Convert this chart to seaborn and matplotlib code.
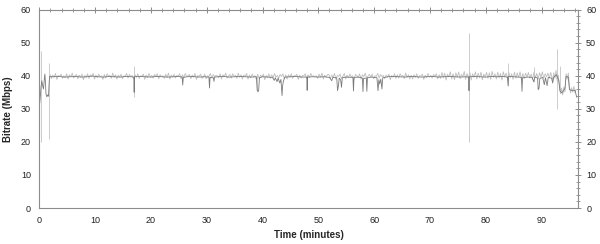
import numpy as np
import pandas as pd
import matplotlib
matplotlib.use("Agg")
import matplotlib.pyplot as plt
import seaborn as sns
from matplotlib.ticker import MultipleLocator

# ---------------- data ----------------
# main (darker) trace: (time in minutes, bitrate in Mbps)
main_points = [
    (0.0, 30.5), (0.15, 33.0), (0.3, 36.5), (0.45, 38.5), (0.6, 37.0), (0.75, 36.0),
    (0.9, 39.0), (1.0, 40.5), (1.1, 38.0), (1.2, 34.5), (1.35, 33.6), (1.5, 34.2),
    (1.65, 33.8), (1.75, 37.5), (1.85, 39.8),
    (2.5, 39.7), (3.5, 39.8), (4.5, 39.6), (5.5, 39.7), (6.5, 39.8), (7.5, 39.6),
    (8.5, 39.7), (9.5, 39.9), (10.5, 39.7), (11.5, 39.6), (12.5, 39.8), (13.5, 39.7),
    (14.5, 39.6), (15.5, 39.8), (16.5, 39.7), (16.95, 39.6), (17.0, 35.0), (17.05, 39.7),
    (18.0, 39.8), (19.0, 39.7), (20.0, 39.6), (21.0, 39.8), (22.0, 39.7), (23.0, 39.6),
    (24.0, 39.7), (25.0, 39.8), (25.6, 39.6), (25.7, 37.2), (25.8, 39.5), (26.5, 39.7),
    (27.5, 39.8), (28.5, 39.6), (29.5, 39.7), (30.4, 39.6), (30.5, 36.3), (30.6, 39.5),
    (31.2, 39.4), (31.3, 38.3), (31.4, 39.6), (32.0, 39.7), (33.0, 39.8), (34.0, 39.6),
    (35.0, 39.7), (36.0, 39.8), (37.0, 39.7), (38.0, 39.6), (38.9, 39.7), (39.05, 35.5),
    (39.3, 35.3), (39.45, 39.4), (40.0, 39.7), (41.0, 39.6), (41.8, 39.5), (42.1, 38.6),
    (42.3, 39.4), (42.6, 38.2), (42.8, 39.3), (43.1, 37.8), (43.3, 38.9), (43.5, 34.0),
    (43.6, 37.0), (43.75, 38.4), (44.0, 39.6), (45.0, 39.7), (46.0, 39.8), (47.0, 39.6),
    (47.95, 39.6), (48.0, 35.6), (48.05, 39.6), (49.0, 39.7), (50.0, 39.6), (51.0, 39.7),
    (52.0, 39.5), (52.4, 38.5), (52.6, 39.5), (53.3, 39.4), (53.45, 35.5), (53.6, 37.0),
    (53.75, 39.3), (54.0, 38.8), (54.15, 36.5), (54.3, 39.4), (55.0, 39.6), (56.2, 39.5),
    (56.3, 35.4), (56.4, 39.5), (57.2, 39.6), (57.9, 39.3), (58.0, 35.2), (58.1, 39.2),
    (58.6, 39.3), (58.7, 35.3), (58.8, 39.4), (59.5, 39.6), (60.5, 39.4), (60.7, 35.5),
    (60.85, 38.8), (61.0, 37.5), (61.2, 39.0), (61.4, 36.0), (61.55, 39.4), (62.5, 39.7),
    (63.5, 39.8), (64.5, 39.7), (65.5, 39.6), (66.5, 39.8), (67.5, 39.7), (68.5, 39.6),
    (69.5, 39.7), (70.5, 39.8), (71.5, 39.6), (72.5, 39.7), (73.5, 39.8), (74.5, 39.7),
    (75.5, 39.6), (76.5, 39.7), (76.95, 39.6), (77.0, 35.5), (77.05, 39.7), (78.0, 39.8),
    (79.0, 39.7), (80.0, 39.6), (81.0, 39.8), (82.0, 39.7), (83.0, 39.8), (83.9, 39.6),
    (84.0, 37.0), (84.1, 39.8), (85.0, 39.7), (86.0, 39.6), (86.4, 39.5), (86.5, 35.3),
    (86.6, 39.4), (87.5, 39.6), (88.3, 39.5), (88.6, 38.2), (88.8, 39.6), (89.3, 39.3),
    (89.4, 35.8), (89.55, 36.2), (89.7, 39.2), (90.2, 39.5), (90.5, 37.3), (90.7, 39.4),
    (91.0, 37.0), (91.2, 39.5), (91.8, 39.3), (92.0, 37.8), (92.2, 39.6), (92.7, 40.3),
    (93.1, 38.5), (93.3, 35.5), (93.6, 34.8), (93.9, 35.4), (94.2, 36.2), (94.4, 39.8),
    (94.8, 39.6), (95.0, 35.8), (95.5, 35.5), (96.0, 35.6), (96.3, 33.5),
]

# light per-sample fuzz around the main trace (sampled every 0.25 min from 1.9 min)
fuzz_start = 1.9
fuzz_step = 0.25
fuzz_rate = [
    40.4, 39.1, 40.2, 39.5, 40.7, 38.9, 40.1, 39.8, 40.5, 39.2,
    40.0, 39.4, 40.6, 39.0, 40.3, 39.7, 40.8, 39.3, 39.9, 40.4,
    39.1, 40.2, 39.6, 40.5, 38.8, 40.1, 39.5, 40.6, 39.2, 40.3,
    39.8, 40.7, 39.0, 40.2, 39.4, 40.5, 39.7, 40.0, 38.9, 40.4,
    39.3, 40.6, 39.9, 40.1, 39.2, 40.8, 39.5, 40.3, 39.0, 40.2,
    39.6, 40.5, 39.1, 40.0, 39.8, 40.7, 39.3, 40.4, 39.7, 40.1,
    39.0, 40.3, 39.5, 40.6, 39.2, 40.0, 39.9, 40.5, 38.9, 40.2,
    39.4, 40.7, 39.6, 40.1, 39.3, 40.4, 39.8, 40.6, 39.1, 40.3,
    39.7, 40.0, 39.2, 40.5, 39.5, 40.8, 39.0, 40.2, 39.6, 40.4,
    39.3, 40.1, 39.9, 40.6, 39.1, 40.3, 39.4, 40.7, 39.8, 40.0,
    40.4, 39.1, 40.2, 39.5, 40.7, 38.9, 40.1, 39.8, 40.5, 39.2,
    39.6, 40.5, 39.1, 40.0, 39.8, 40.7, 39.3, 40.4, 39.7, 40.1,
    40.0, 39.4, 40.6, 39.0, 40.3, 39.7, 40.8, 39.3, 39.9, 40.4,
    39.3, 40.6, 39.9, 40.1, 39.2, 40.8, 39.5, 40.3, 39.0, 40.2,
    39.8, 40.7, 39.0, 40.2, 39.4, 40.5, 39.7, 40.0, 38.9, 40.4,
    39.1, 40.2, 39.6, 40.5, 38.8, 40.1, 39.5, 40.6, 39.2, 40.3,
    39.4, 40.7, 39.6, 40.1, 39.3, 40.4, 39.8, 40.6, 39.1, 40.3,
    39.0, 40.3, 39.5, 40.6, 39.2, 40.0, 39.9, 40.5, 38.9, 40.2,
    39.3, 40.1, 39.9, 40.6, 39.1, 40.3, 39.4, 40.7, 39.8, 40.0,
    39.7, 40.0, 39.2, 40.5, 39.5, 40.8, 39.0, 40.2, 39.6, 40.4,
    40.4, 39.1, 40.2, 39.5, 40.7, 38.9, 40.1, 39.8, 40.5, 39.2,
    39.8, 40.7, 39.0, 40.2, 39.4, 40.5, 39.7, 40.0, 38.9, 40.4,
    40.0, 39.4, 40.6, 39.0, 40.3, 39.7, 40.8, 39.3, 39.9, 40.4,
    39.6, 40.5, 39.1, 40.0, 39.8, 40.7, 39.3, 40.4, 39.7, 40.1,
    39.1, 40.2, 39.6, 40.5, 38.8, 40.1, 39.5, 40.6, 39.2, 40.3,
    39.3, 40.6, 39.9, 40.1, 39.2, 40.8, 39.5, 40.3, 39.0, 40.2,
    39.0, 40.3, 39.5, 40.6, 39.2, 40.0, 39.9, 40.5, 38.9, 40.2,
    39.4, 40.7, 39.6, 40.1, 39.3, 40.4, 39.8, 40.6, 39.1, 40.3,
    39.2, 41.0, 39.4, 40.8, 38.7, 40.5, 39.6, 41.2, 39.0, 40.6,
    38.8, 40.9, 39.5, 41.1, 39.1, 40.4, 39.7, 41.3, 38.9, 40.7,
    39.3, 41.0, 38.7, 40.6, 39.5, 41.2, 39.0, 40.8, 39.4, 41.1,
    38.8, 40.5, 39.6, 41.0, 39.2, 40.9, 38.9, 41.3, 39.5, 40.6,
    39.0, 41.1, 39.3, 40.7, 38.7, 41.2, 39.6, 40.8, 39.1, 41.0,
    39.4, 40.6, 38.9, 41.1, 39.2, 40.9, 39.5, 41.2, 38.8, 40.7,
    39.1, 40.8, 39.6, 41.0, 39.3, 40.5, 38.9, 41.1, 39.4, 40.7,
    39.0, 40.9, 39.5, 41.2, 39.2, 40.6, 39.7, 40.8, 39.3, 41.0,
    39.4,
]

# light fuzz over the unsettled final minutes
tail_time = [92.0, 92.2, 92.4, 92.6, 92.8, 93.0, 93.2, 93.4, 93.6, 93.8, 94.0,
             94.2, 94.4, 94.6, 94.8, 95.0, 95.2, 95.4, 95.6, 95.8, 96.0, 96.2]
tail_rate = [38.6, 40.9, 39.2, 41.6, 38.4, 40.2, 36.8, 34.6, 36.3, 34.2, 36.6,
             35.1, 40.6, 39.0, 40.8, 36.9, 34.8, 36.4, 35.0, 36.8, 34.9, 35.9]

# isolated short bursts drawn in light grey (time, top, bottom)
burst_time = [0.25, 1.75, 17.0, 39.1, 77.0, 84.0, 88.7, 92.7, 93.3]
burst_top = [47.5, 44.0, 43.0, 40.5, 53.0, 44.0, 42.5, 48.0, 43.0]
burst_bottom = [20.0, 21.0, 33.5, 35.0, 20.0, 37.0, 38.0, 30.0, 35.0]

x_ticks = [0, 10, 20, 30, 40, 50, 60, 70, 80, 90]
y_ticks = [0, 10, 20, 30, 40, 50, 60]

# ---------------- figure ----------------
sns.set_style("white")
plt.rcParams["font.family"] = ["Liberation Sans", "DejaVu Sans"]

main_df = pd.DataFrame(main_points, columns=["time", "rate"])
fuzz_df = pd.DataFrame({
    "time": list(fuzz_start + fuzz_step * np.arange(len(fuzz_rate))) + tail_time,
    "rate": fuzz_rate + tail_rate,
})

fig = plt.figure(figsize=(6.0, 2.44), dpi=100)
ax = fig.add_axes([0.0655, 0.1475, 0.8975, 0.813])

sns.lineplot(data=fuzz_df, x="time", y="rate", ax=ax, color="#bdbdbd",
             linewidth=0.6, estimator=None, sort=False)
ax.vlines(burst_time, burst_bottom, burst_top, color="#c4c4c4", linewidth=0.6)
sns.lineplot(data=main_df, x="time", y="rate", ax=ax, color="#7a7a7a",
             linewidth=0.6, estimator=None, sort=False)

ax.set_xlim(0, 96.5)
ax.set_ylim(0, 60)
ax.set_xticks(x_ticks)
ax.set_yticks(y_ticks)
ax.xaxis.set_minor_locator(MultipleLocator(2))
ax.yaxis.set_minor_locator(MultipleLocator(2))

edge = "#8c8c8c"
for s in ax.spines.values():
    s.set_color(edge)
    s.set_linewidth(0.8)

ax.tick_params(axis="both", which="major", direction="inout", length=5,
               width=0.7, color=edge, labelsize=6.5, labelcolor="#222222")
ax.tick_params(axis="both", which="minor", direction="inout", length=3,
               width=0.6, color=edge)
ax.tick_params(axis="y", which="both", right=True, labelright=True)
ax.tick_params(axis="x", which="both", top=True, labeltop=False)

ax.set_xlabel("Time (minutes)", fontsize=7, fontweight="bold", labelpad=3)
ax.set_ylabel("Bitrate (Mbps)", fontsize=7, fontweight="bold", labelpad=6)

fig.savefig("out.png", dpi=100)
